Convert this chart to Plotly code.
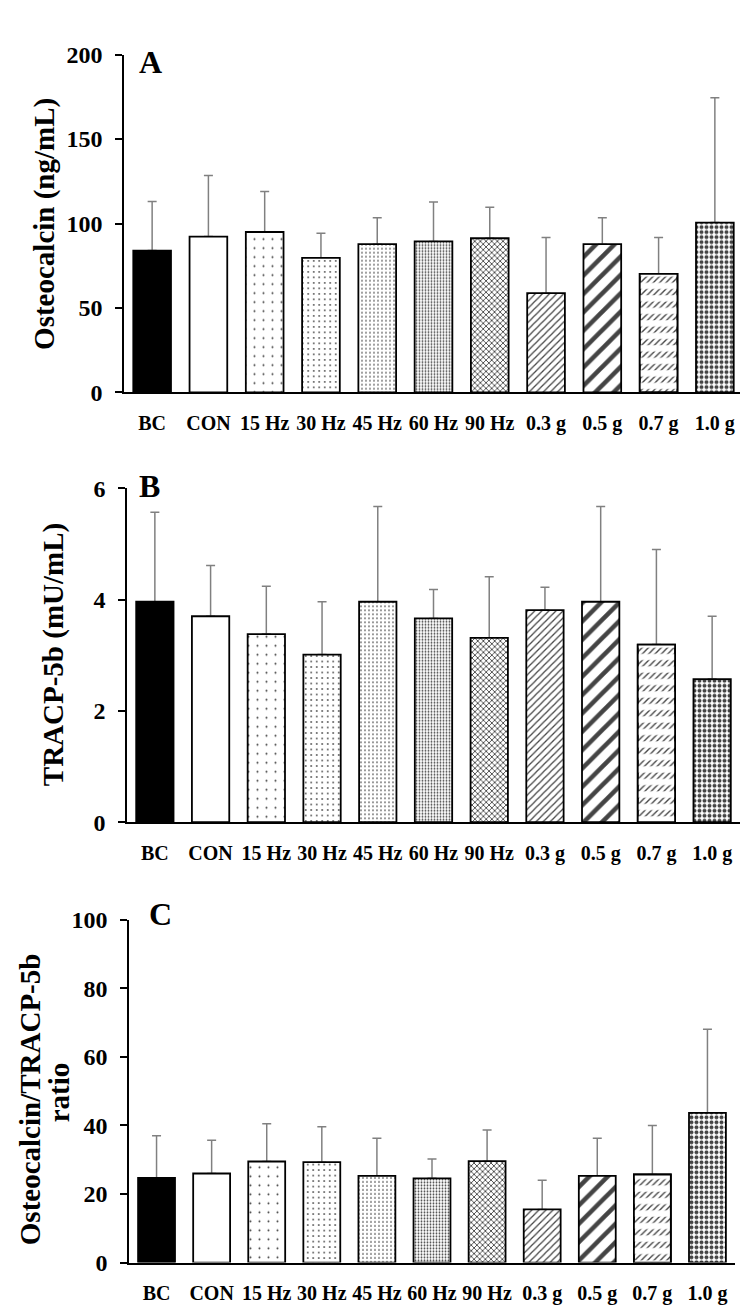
import plotly.graph_objects as go

groups = ["BC", "CON", "15 Hz", "30 Hz", "45 Hz", "60 Hz", "90 Hz", "0.3 g", "0.5 g", "0.7 g", "1.0 g"]

# panel A: osteocalcin (ng/mL), mean and mean+SD
osteo_mean = [84, 92.3, 95, 79.7, 87.8, 89.4, 91.3, 58.8, 87.8, 70.2, 100.6]
osteo_top = [113, 128.4, 119, 94.2, 103.5, 112.7, 109.7, 91.7, 103.5, 91.7, 174.5]

# panel B: TRACP-5b (mU/mL)
tracp_mean = [3.96, 3.70, 3.38, 3.01, 3.96, 3.66, 3.31, 3.81, 3.96, 3.19, 2.57]
tracp_top = [5.57, 4.61, 4.24, 3.96, 5.67, 4.18, 4.41, 4.22, 5.67, 4.90, 3.70]

# panel C: ratio
ratio_mean = [24.7, 26.0, 29.5, 29.3, 25.3, 24.6, 29.6, 15.5, 25.3, 25.7, 43.7]
ratio_top = [37.0, 35.7, 40.5, 39.6, 36.3, 30.2, 38.7, 24.0, 36.3, 40.0, 68.1]

# fill style for every group
fill_col = ["black"] + ["white"] * 10
pat_shape = ["", "", ".", ".", ".", ".", "x", "/", "/", "/", "."]
pat_size = [8, 8, 9, 5.5, 4, 3, 4, 5, 13, 4.5, 5]
pat_solid = [0.3, 0.3, 0.04, 0.08, 0.15, 0.3, 0.4, 0.25, 0.35, 0.3, 0.5]

FONT = "Liberation Serif"
W, H = 748, 1312

panels = [
    dict(mean=osteo_mean, top=osteo_top, rng=[0, 200], dtick=50,
         x=(116, 735), y=(379, 34.3), letter="A", lx=129, ly=41.7),
    dict(mean=tracp_mean, top=tracp_top, rng=[0, 6], dtick=2,
         x=(119, 732), y=(817.3, 476.7), letter="B", lx=129, ly=474.7),
    dict(mean=ratio_mean, top=ratio_top, rng=[0, 100], dtick=20,
         x=(121, 727), y=(1266.7, 917), letter="C", lx=139, ly=911.5),
]

fig = go.Figure()
layout = {}
annots = []

for i, p in enumerate(panels):
    n = "" if i == 0 else str(i + 1)
    xa, ya = "x" + n, "y" + n
    err = [t - m for t, m in zip(p["top"], p["mean"])]

    # error bars underneath, so the patterned bars hide the lower caps
    fig.add_bar(x=groups, y=p["mean"], xaxis=xa, yaxis=ya, showlegend=False,
                marker=dict(color="rgba(0,0,0,0)", line=dict(width=0)),
                error_y=dict(type="data", symmetric=False, array=err,
                             arrayminus=[0] * len(err), color="#808080",
                             thickness=1.5, width=4.5))
    fig.add_bar(x=groups, y=p["mean"], xaxis=xa, yaxis=ya, showlegend=False,
                marker=dict(color=fill_col, line=dict(color="black", width=1.8),
                            pattern=dict(shape=pat_shape, size=pat_size,
                                         solidity=pat_solid, fgcolor="black",
                                         bgcolor=fill_col, fgopacity=1,
                                         fillmode="overlay")))
    # white rows break the 0.7 g hatch into short dashes
    k = groups.index("0.7 g")
    fig.add_bar(x=[groups[k]], y=[p["mean"][k]], xaxis=xa, yaxis=ya, showlegend=False,
                marker=dict(color="rgba(0,0,0,0)", line=dict(color="black", width=1.8),
                            pattern=dict(shape="-", size=12.5, solidity=0.5,
                                         fgcolor="white", bgcolor="rgba(0,0,0,0)",
                                         fgopacity=1, fillmode="overlay")))

    layout["xaxis" + n] = dict(
        domain=[p["x"][0] / W, p["x"][1] / W], anchor=ya,
        showline=True, linecolor="black", linewidth=1.5, ticks="",
        showgrid=False, zeroline=False, ticklabelstandoff=12,
        tickfont=dict(family=FONT, size=20, color="black", weight="bold"))
    layout["yaxis" + n] = dict(
        domain=[1 - p["y"][0] / H, 1 - p["y"][1] / H], anchor=xa,
        range=p["rng"], dtick=p["dtick"], showline=True, linecolor="black",
        linewidth=1.5, ticks="outside", ticklen=7, tickwidth=1.5, tickcolor="black",
        showgrid=False, zeroline=False, ticklabelstandoff=8,
        tickfont=dict(family=FONT, size=24, color="black", weight="bold"))
    annots.append(dict(text=p["letter"], xref="paper", yref="paper",
                       x=p["lx"] / W, y=1 - p["ly"] / H, xanchor="left", yanchor="middle",
                       showarrow=False,
                       font=dict(family=FONT, size=32, color="black", weight="bold")))

# y-axis titles
titles = [("Osteocalcin (ng/mL)", 37, 207),
          ("TRACP-5b (mU/mL)", 45, 647),
          ("Osteocalcin/TRACP-5b", 22, 1100),
          ("ratio", 51, 1093)]
for t, tx, ty in titles:
    annots.append(dict(text=t, xref="paper", yref="paper", x=tx / W, y=1 - ty / H,
                       xanchor="center", yanchor="middle", textangle=-90, showarrow=False,
                       font=dict(family=FONT, size=29, color="black", weight="bold")))

fig.update_layout(**layout)
fig.update_layout(width=W, height=H, margin=dict(l=0, r=0, t=0, b=0),
                  barmode="overlay", bargap=0.33,
                  plot_bgcolor="white", paper_bgcolor="white",
                  annotations=annots)

fig.write_html("out.html")
